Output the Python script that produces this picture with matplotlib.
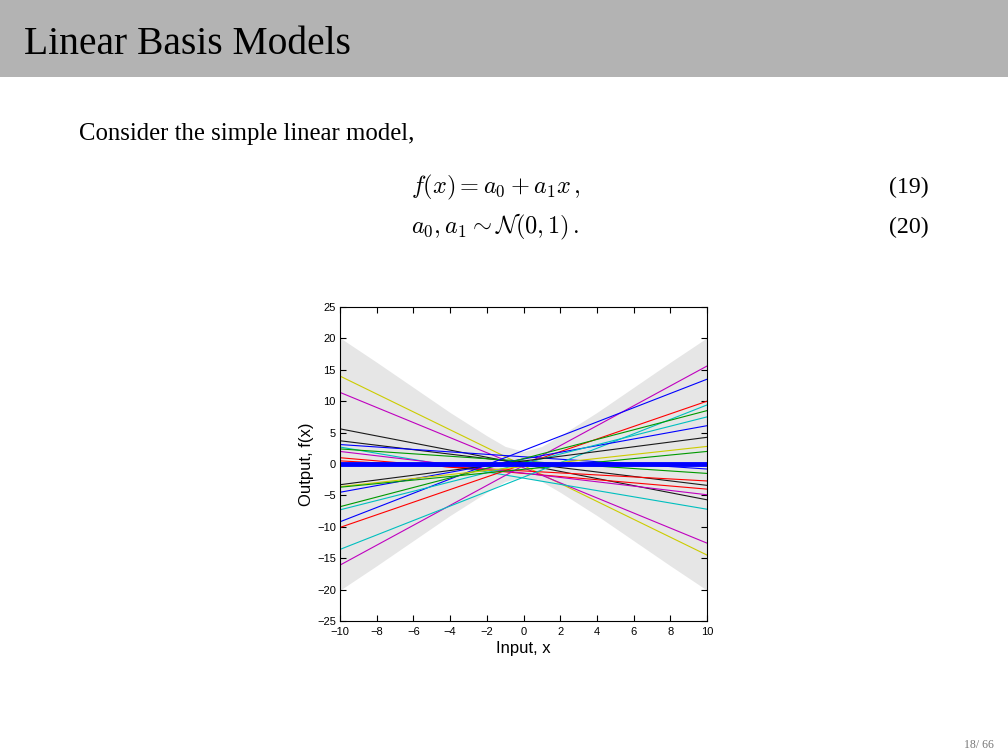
import matplotlib
matplotlib.use("Agg")
import matplotlib.pyplot as plt
from matplotlib.patches import Rectangle

# sample lines f(x) = a0 + a1 x, read as values at x=-10 and x=10
left_vals = [14.0, 11.4, 5.6, 3.7, 3.1, 2.7, 2.4, 1.0, 0.5, 2.0,
             -16.1, -13.6, -10.1, -9.2, -4.5, -6.8, -7.3, -3.6, -3.7, -3.3]
right_vals = [-14.5, -12.6, -5.7, -3.4, -0.8, -7.2, -1.5, -4.0, -2.7, -4.9,
              15.6, 9.4, 10.0, 13.5, 6.1, 8.5, 7.5, 2.8, 2.0, 4.25]
line_colors = ['y', 'm', 'k', 'k', 'b', 'c', 'g', 'r', 'r', 'm',
               'm', 'c', 'r', 'b', 'b', 'g', 'c', 'y', 'g', 'k']

# grey band (two standard deviations), half widths
band_x = [-10, -8, -6, -4, -2, -1, 0, 1, 2, 4, 6, 8, 10]
band_half = [20.1, 16.2, 12.2, 8.2, 4.5, 2.8, 2.0, 2.8, 4.5, 8.2, 12.2, 16.2, 20.1]

mean_x = [-10, 10]
mean_y = [0, 0]

xticks = list(range(-10, 11, 2))
yticks = list(range(-25, 26, 5))

matlab_colors = {'b': (0, 0, 1), 'g': (0, 0.6, 0), 'r': (1, 0, 0),
                 'c': (0, 0.75, 0.75), 'm': (0.75, 0, 0.75),
                 'y': (0.8, 0.8, 0), 'k': (0.1, 0.1, 0.1)}

fig = plt.figure(figsize=(10.08, 7.56), dpi=100)

# slide header
fig.add_artist(Rectangle((0, 1 - 77 / 756), 1, 77 / 756, transform=fig.transFigure,
                         facecolor='#b3b3b3', edgecolor='none'))
fig.text(24 / 1008, 1 - 44 / 756, "Linear Basis Models", family='Liberation Serif',
         fontsize=28.5, va='center', ha='left', color='black')
fig.text(79 / 1008, 1 - 134 / 756, "Consider the simple linear model,",
         family='Liberation Serif', fontsize=17.8, va='center', ha='left')

plt.rcParams['mathtext.fontset'] = 'cm'
fig.text(581 / 1008, 1 - 187 / 756, r"$f(x) = a_0 + a_1 x\,,$", fontsize=17.5,
         ha='right', va='center')
fig.text(411 / 1008, 1 - 227 / 756, r"$a_0, a_1 \sim \mathcal{N}(0, 1)\,.$",
         fontsize=17.5, ha='left', va='center')
fig.text(929 / 1008, 1 - 187 / 756, "(19)", family='Liberation Serif', fontsize=17.2,
         ha='right', va='center')
fig.text(929 / 1008, 1 - 227 / 756, "(20)", family='Liberation Serif', fontsize=17.2,
         ha='right', va='center')
fig.text(994 / 1008, 1 - 745 / 756, "18/ 66", family='Liberation Serif', fontsize=8.5,
         ha='right', va='center', color='#777777')

# plot
ax = fig.add_axes([340 / 1008, 1 - 621 / 756, 367 / 1008, 314 / 756])
lower = [-h for h in band_half]
ax.fill_between(band_x, lower, band_half, color='#e6e6e6', linewidth=0)
for l, r, c in zip(left_vals, right_vals, line_colors):
    ax.plot([-10, 10], [l, r], color=matlab_colors[c], linewidth=0.8)
ax.plot(mean_x, mean_y, color=(0, 0, 1), linewidth=3.5)

ax.set_xlim(-10, 10)
ax.set_ylim(-25, 25)
ax.set_xticks(xticks)
ax.set_yticks(yticks)
ax.set_xticklabels([str(t).replace('-', '\u2212') for t in xticks])
ax.set_yticklabels([str(t).replace('-', '\u2212') for t in yticks])
ax.tick_params(direction='in', length=4, width=0.8, top=True, right=True,
               labelsize=8, pad=3)
ax.tick_params(axis='x', pad=4)
for lab in ax.get_xticklabels() + ax.get_yticklabels():
    lab.set_family('Liberation Sans')
for s in ax.spines.values():
    s.set_linewidth(0.8)
ax.set_xlabel("Input, x", family='Liberation Sans', fontsize=12, labelpad=3)
ax.set_ylabel("Output, f(x)", family='Liberation Sans', fontsize=12, labelpad=2)

fig.savefig("out.png", dpi=100)
